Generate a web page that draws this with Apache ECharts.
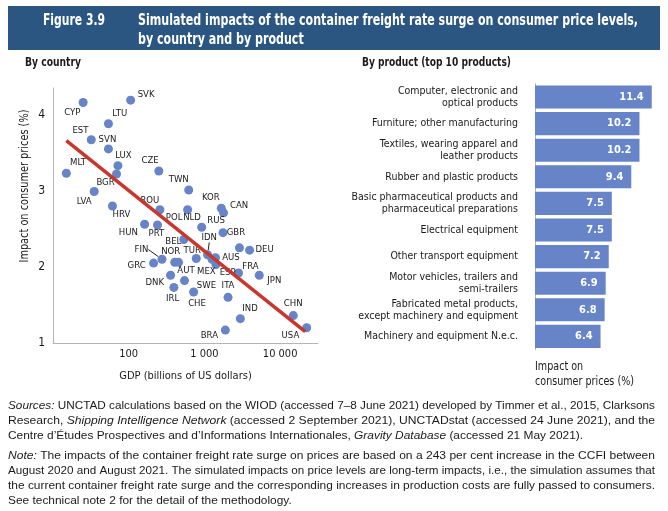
<!DOCTYPE html>
<html>
<head>
<meta charset="utf-8">
<script src="https://cdn.jsdelivr.net/npm/echarts@6/dist/echarts.min.js"></script>
<style>
html,body{margin:0;padding:0;background:#fff;}
#chart{width:668px;height:511px;}
</style>
</head>
<body>
<div id="chart"></div>
<script>
// ---------- data ----------
var countries = ['SVK','CYP','LTU','EST','SVN','LUX','MLT','BGR','CZE','LVA','TWN','HRV','ROU','POL','KOR','CAN','NLD','RUS','HUN','PRT','GBR','DEU','BEL','IDN','TUR','FIN','NOR','AUT','GRC','AUS','MEX','ESP','FRA','JPN','DNK','SWE','IRL','CHE','ITA','IND','CHN','BRA','USA'];
var gdp = [106,25,54,32,54,72,15,69,250,35,620,61,258,600,1670,1790,920,1760,162,240,2900,3950,535,1100,780,275,405,455,213,1400,1260,1420,2820,5300,357,545,395,720,2050,2980,14900,1890,22400];
var impact = [4.19,4.16,3.88,3.67,3.55,3.33,3.23,3.22,3.26,2.99,3.01,2.80,2.75,2.75,2.77,2.71,2.52,2.45,2.56,2.55,2.25,2.22,2.36,2.16,2.11,2.10,2.06,2.06,2.05,2.12,2.10,2.03,1.92,1.89,1.89,1.82,1.73,1.67,1.60,1.32,1.36,1.17,1.20];
var trendX = [15, 21430];
var trendY = [3.66, 1.15];
var yTicks = [1, 2, 3, 4];

var products = ['Computer, electronic and\noptical products','Furniture; other manufacturing','Textiles, wearing apparel and\nleather products','Rubber and plastic products','Basic pharmaceutical products and\npharmaceutical preparations','Electrical equipment','Other transport equipment','Motor vehicles, trailers and\nsemi-trailers','Fabricated metal products,\nexcept machinery and equipment','Machinery and equipment N.e.c.'];
var productImpact = [11.4,10.2,10.2,9.4,7.5,7.5,7.2,6.9,6.8,6.4];

// ---------- label placement (style only) ----------
var labelOffsets = {
  SVK:[15.5,-5.7], CYP:[-10.8,9.6], LTU:[11.3,-10], EST:[-10.8,-9.6], SVN:[-1,-9.7], LUX:[5.5,-9.7],
  MLT:[11.7,-10.3], BGR:[-11,8.7], CZE:[-8.8,-10], LVA:[-10,10], TWN:[-10,-10], HRV:[9,9], ROU:[-10,-9.3],
  POL:[-13.5,7.4], KOR:[-10.5,-10.4], CAN:[15.5,-7.4], NLD:[-9.6,-10], RUS:[-7,-11.6], HUN:[-16.3,8.3],
  PRT:[-1.2,9], GBR:[-3.5,-15.4], DEU:[15,-0.7], BEL:[-10.5,1.7], IDN:[1.7,-17.3], TUR:[-4,-8.4],
  FIN:[-20.5,-9.7], NOR:[-4,-10.7], AUT:[7.5,8.3], GRC:[-17,2.3], AUS:[15.5,0], MEX:[-5.7,12], ESP:[11.7,8.3],
  FRA:[12,-6.3], JPN:[15,5], DNK:[-15.8,7.4], SWE:[22,5], IRL:[-1.3,11], CHE:[3.4,11.7], ITA:[0,-11.7],
  IND:[9.7,-10.4], CHN:[0,-11.7], BRA:[-16,5], USA:[-16.2,7.6]
};
var leaderLines = {FIN:true, IDN:true};

var COND = "'DejaVu Sans Condensed','Liberation Sans Narrow',sans-serif";
var SANS = "'Liberation Sans',Arial,sans-serif";
var BLUE = '#6784c8';
var TXT = '#1a1a1a';

// text measuring for fitting header/footnote widths (horizontal scale)
var mctx = document.createElement('canvas').getContext('2d');
function measurePlain(text, weight, size, family, style){
  mctx.font = (style||'normal') + ' ' + (weight||'normal') + ' ' + size + 'px ' + family;
  return mctx.measureText(text).width;
}
function measureRich(text, size, family){
  var w = 0, re = /\{i\|([^}]*)\}/g, last = 0, m;
  while ((m = re.exec(text))){
    w += measurePlain(text.slice(last, m.index), 'normal', size, family);
    w += measurePlain(m[1], 'normal', size, family, 'italic');
    last = re.lastIndex;
  }
  w += measurePlain(text.slice(last), 'normal', size, family);
  return w;
}
function fitText(opts){
  var w = measurePlain(opts.measure || opts.text, opts.weight, opts.size, opts.family);
  var sx = opts.width / w;
  var el = {type:'text', x:opts.x, y:opts.y, scaleX:sx, silent:true,
    style:{text:opts.text, fill:opts.fill||TXT, fontSize:opts.size, fontWeight:opts.weight||'normal',
      fontFamily:opts.family, align:opts.align||'left', verticalAlign:opts.va||'middle', lineHeight:opts.lineHeight}};
  if (opts.rotation) el.rotation = opts.rotation;
  return el;
}

function fmtThousands(v){
  return String(Math.round(v)).replace(/\B(?=(\d{3})+(?!\d))/g, ' ');
}

var scatterData = countries.map(function(c, i){
  return {
    name: c,
    value: [gdp[i], impact[i]],
    labelLine: {show: !!leaderLines[c], lineStyle:{color:'#222', width:1}}
  };
});
var trendData = trendX.map(function(x, i){ return [x, trendY[i]]; });

var footLines = [
  '{i|Sources:} UNCTAD calculations based on the WIOD (accessed 7–8 June 2021) developed by Timmer et al., 2015, Clarksons',
  'Research, {i|Shipping Intelligence Network} (accessed 2 September 2021), UNCTADstat (accessed 24 June 2021), and the',
  'Centre d’Études Prospectives and d’Informations Internationales, {i|Gravity Database} (accessed 21 May 2021).',
  '{i|Note:} The impacts of the container freight rate surge on prices are based on a 243 per cent increase in the CCFI between',
  'August 2020 and August 2021. The simulated impacts on price levels are long-term impacts, i.e., the simulation assumes that',
  'the current container freight rate surge and the corresponding increases in production costs are fully passed to consumers.',
  'See technical note 2 for the detail of the methodology.'
];
var footY = [406, 421, 436, 456, 471, 486, 501];
var footJustify = [true, true, false, true, true, true, false];
var FOOT_W = 647, FOOT_SIZE = 11;

var TITLE1 = 'Simulated impacts of the container freight rate surge on consumer price levels,';
var TITLE2 = 'by country and by product';
var graphics = [
  {type:'rect', left:8, top:6, shape:{width:652, height:44}, style:{fill:'#2b5682'}, silent:true},
  fitText({text:'Figure 3.9', x:43, y:21, size:15.5, weight:'bold', family:COND, width:62, fill:'#fff'}),
  fitText({text:TITLE1, x:138, y:21, size:15.5, weight:'bold', family:COND, width:500, fill:'#fff'}),
  fitText({text:TITLE2, x:138, y:40, size:15.5, weight:'bold', family:COND,
           width:500 * measurePlain(TITLE2,'bold',15.5,COND) / measurePlain(TITLE1,'bold',15.5,COND), fill:'#fff'}),
  fitText({text:'By country', x:25, y:63, size:12.5, weight:'bold', family:COND, width:56}),
  fitText({text:'By product (top 10 products)', x:362, y:63, size:12.5, weight:'bold', family:COND, width:149}),
  fitText({text:'Impact on consumer prices (%)', x:25, y:186, size:13, family:COND, width:153, align:'center', rotation:Math.PI/2}),
  fitText({text:'Impact on\nconsumer prices (%)', measure:'consumer prices (%)', x:535, y:360, size:12.5, family:COND, width:99, va:'top', lineHeight:14.3})
];

var justScales = [];
footLines.forEach(function(t, i){
  if (footJustify[i]) justScales.push(FOOT_W / measureRich(t, FOOT_SIZE, SANS));
});
var avgScale = justScales.reduce(function(a,b){return a+b;},0) / justScales.length;
footLines.forEach(function(t, i){
  var sx = footJustify[i] ? FOOT_W / measureRich(t, FOOT_SIZE, SANS) : avgScale;
  graphics.push({type:'text', x:8, y:footY[i], scaleX:sx, silent:true, style:{
    text:t, fill:TXT, fontFamily:SANS, fontSize:FOOT_SIZE, verticalAlign:'middle',
    rich:{i:{fontStyle:'italic', fontFamily:SANS, fontSize:FOOT_SIZE, fill:TXT}}
  }});
});

var chart = echarts.init(document.getElementById('chart'), null, {renderer:'canvas'});
var option = {
  backgroundColor:'#fff',
  animation:false,
  graphic: graphics,
  grid: [
    {left:53, top:88, width:265, height:255},
    {left:535, top:83.7, width:122.9, height:266}
  ],
  xAxis: [
    {gridIndex:0, type:'log', logBase:10, min:10, max:31623,
     axisLine:{show:true, lineStyle:{color:'#b5b5b5', width:1}},
     axisTick:{show:false}, splitLine:{show:false},
     axisLabel:{color:TXT, fontFamily:COND, fontSize:11, margin:6, showMaxLabel:false,
       formatter:function(v){ return v < 50 ? '' : fmtThousands(v); }},
     name:'GDP (billions of US dollars)', nameLocation:'middle', nameGap:28,
     nameTextStyle:{color:TXT, fontFamily:COND, fontSize:11}},
    {gridIndex:1, type:'value', min:0, max:12, show:false}
  ],
  yAxis: [
    {gridIndex:0, type:'value', min:yTicks[0], max:4.35, interval:1,
     axisLine:{show:true, lineStyle:{color:'#b5b5b5', width:1}},
     axisTick:{show:false}, splitLine:{show:false},
     axisLabel:{color:TXT, fontFamily:COND, fontSize:12, margin:8, showMaxLabel:false,
       formatter:function(v){ return yTicks.indexOf(v) >= 0 ? String(v) : ''; }}},
    {gridIndex:1, type:'category', data:products, inverse:true,
     axisLine:{show:true, lineStyle:{color:'#b5b5b5', width:1}},
     axisTick:{show:false},
     axisLabel:{color:TXT, fontFamily:COND, fontSize:10.5, lineHeight:12, margin:17, align:'right'}}
  ],
  series: [
    {type:'scatter', xAxisIndex:0, yAxisIndex:0, data:scatterData, symbolSize:9,
     itemStyle:{color:BLUE, opacity:1},
     label:{show:true, position:'inside', formatter:'{b}', color:TXT, fontFamily:COND, fontSize:9.5},
     labelLayout:function(p){
       var o = labelOffsets[countries[p.dataIndex]] || [0,-10];
       return {dx:o[0], dy:o[1]};
     },
     z:2},
    {type:'line', xAxisIndex:0, yAxisIndex:0, data:trendData, showSymbol:false, symbol:'none',
     lineStyle:{color:'#c8372d', width:3.5}, z:3, silent:true},
    {type:'bar', xAxisIndex:1, yAxisIndex:1, data:productImpact, barCategoryGap:'13%',
     itemStyle:{color:BLUE},
     label:{show:true, position:'insideRight', distance:8, color:'#fff', fontWeight:'bold', fontFamily:COND, fontSize:11,
       formatter:function(p){ return p.value.toFixed(1); }}}
  ]
};
chart.setOption(option);
</script>
</body>
</html>
